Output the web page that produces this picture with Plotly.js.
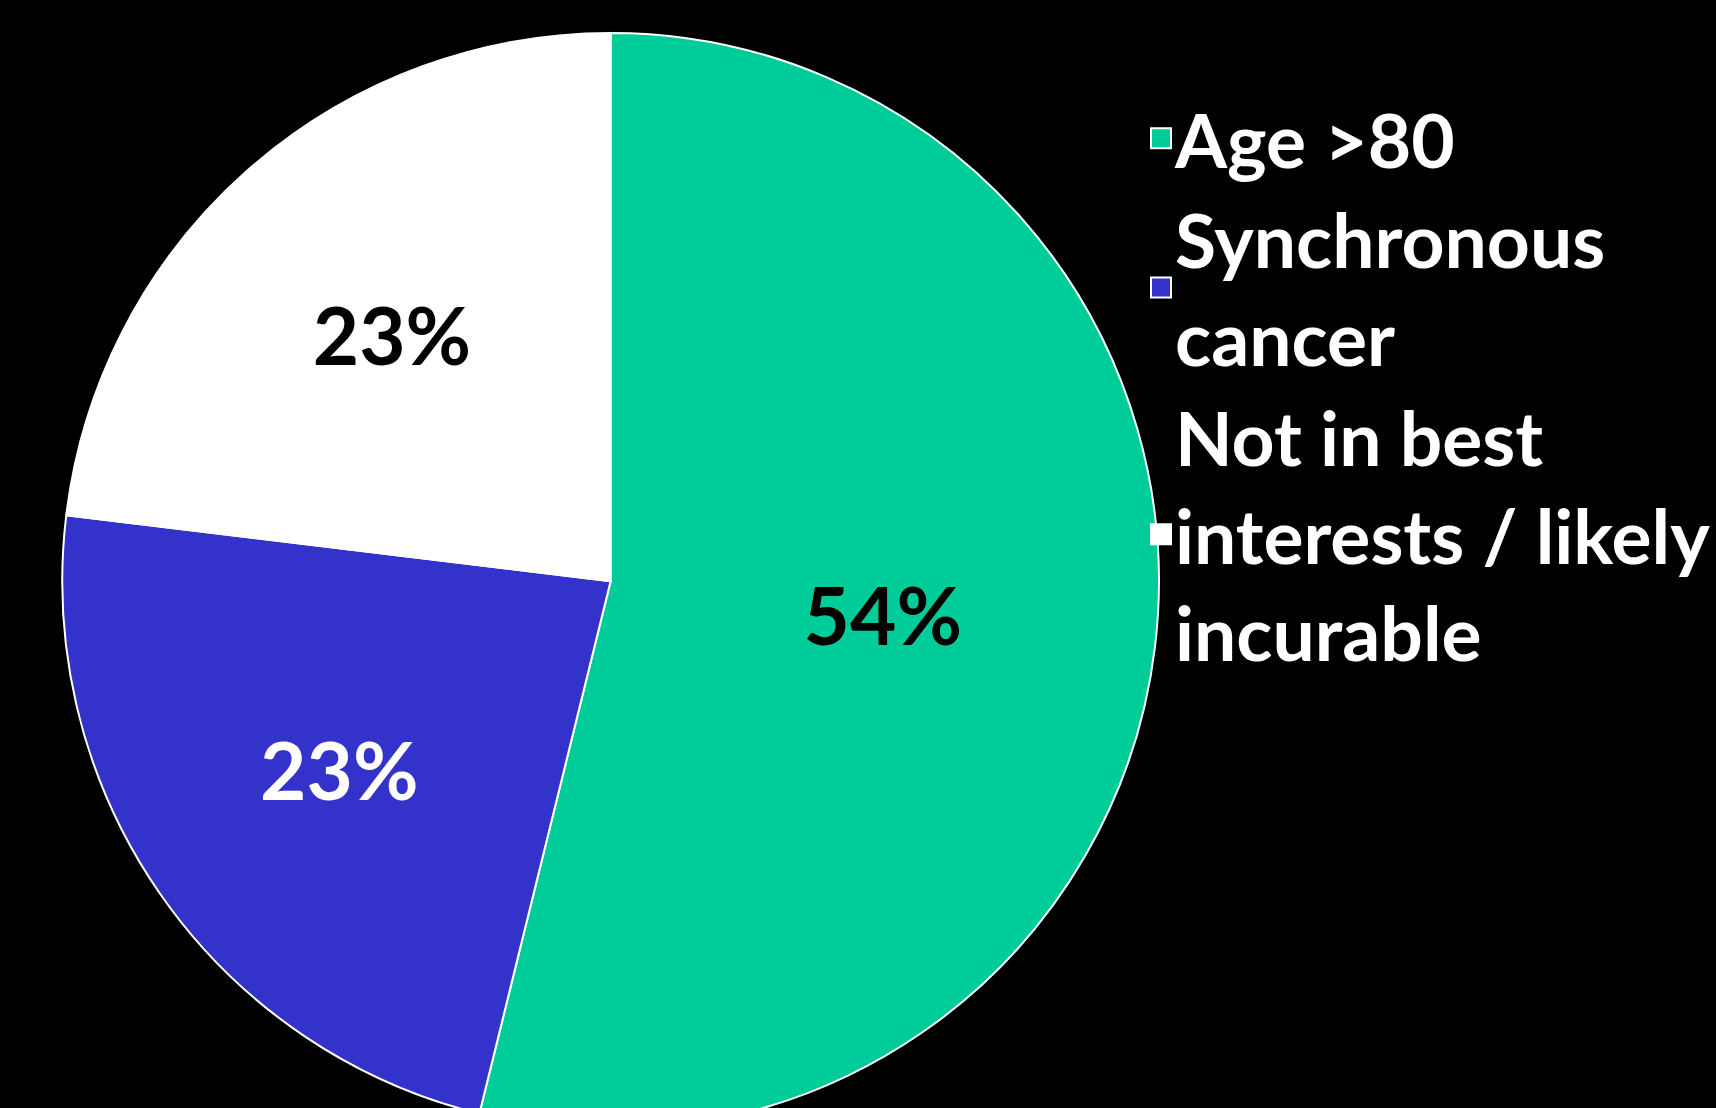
<!DOCTYPE html>
<html>
<head>
<meta charset="utf-8">
<script src="https://cdn.plot.ly/plotly-3.0.1.min.js"></script>
<style>
  html, body { margin: 0; padding: 0; background: #000; overflow: hidden; width: 1716px; height: 1108px; }
  #chart { width: 1716px; height: 1140px; }
</style>
</head>
<body>
<div id="chart"></div>
<script>
const categories = ["Age >80", "Synchronous<br>cancer", "Not in best<br>interests / likely<br>incurable"];
const counts = [7, 3, 3];
const sliceColors = ["#00CC99", "#3333CC", "#FFFFFF"];
const labelColors = ["#000000", "#FFFFFF", "#000000"];

const W = 1716, H = 1140;

const trace = {
  type: "pie",
  labels: categories,
  values: counts,
  sort: false,
  direction: "clockwise",
  rotation: 0,
  hole: 0,
  marker: { colors: sliceColors, line: { color: "#FFFFFF", width: 2 } },
  texttemplate: "%{percent:.0%}",
  textposition: "inside",
  insidetextorientation: "horizontal",
  textfont: { family: "Lato, 'Open Sans', sans-serif", size: 80, weight: "bold", color: labelColors },
  domain: { x: [62.5 / W, 1163 / W], y: [(H - 1131.5) / H, (H - 31) / H] },
  hoverinfo: "label+percent"
};

const layout = {
  width: W,
  height: H,
  paper_bgcolor: "#000000",
  plot_bgcolor: "#000000",
  margin: { l: 0, r: 0, t: 0, b: 0 },
  showlegend: true,
  legend: {
    x: 1139 / W,
    y: 1 - 83 / H,
    xanchor: "left",
    yanchor: "top",
    bgcolor: "rgba(0,0,0,0)",
    font: { family: "Lato, 'Open Sans', sans-serif", size: 75, weight: "bold", color: "#FFFFFF" },
    valign: "middle",
    tracegroupgap: 0
  },
  uniformtext: { mode: false }
};

Plotly.newPlot("chart", [trace], layout, { displayModeBar: false, staticPlot: true }).then(function () {
  // enlarge the legend swatches to match the reference's larger squares
  document.querySelectorAll("#chart path.legendpie").forEach(function (p) {
    p.setAttribute("d", "M16,10H-4V-10H16Z");
  });
});
</script>
</body>
</html>
